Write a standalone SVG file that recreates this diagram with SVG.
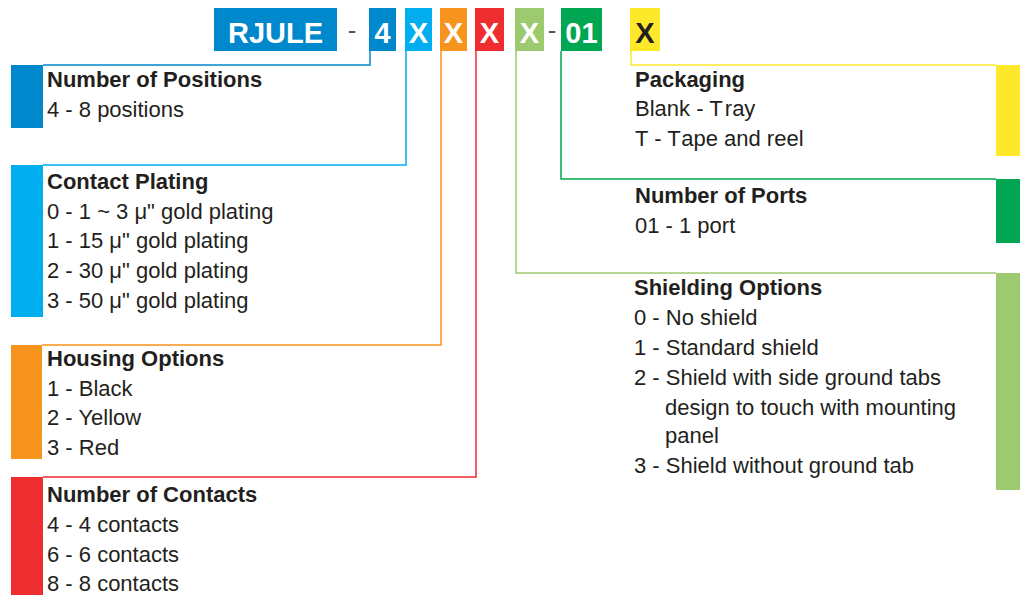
<svg xmlns="http://www.w3.org/2000/svg" width="1020" height="595" viewBox="0 0 1020 595">
<style>
.h{font-family:"Liberation Sans",Arial,sans-serif;font-size:22px;font-weight:bold;fill:#231F20}
.t{font-family:"Liberation Sans",Arial,sans-serif;font-size:22px;fill:#231F20}
.c{font-family:"Liberation Sans",Arial,sans-serif;font-size:29px;font-weight:bold;fill:#fff;text-anchor:middle}
.d{font-family:"Liberation Sans",Arial,sans-serif;font-size:26px;fill:#555;text-anchor:middle}
.ln{fill:none;stroke-width:1.5}
</style>
<rect width="1020" height="595" fill="#fff"/>
<g id="code">
<rect x="214" y="8" width="123" height="43" fill="#0088CC"/>
<text class="c" x="275.5" y="43">RJULE</text>
<text class="d" x="352" y="39">-</text>
<rect x="369" y="8" width="27" height="43" fill="#0088CC"/>
<text class="c" x="382.5" y="43">4</text>
<rect x="405" y="8" width="27" height="43" fill="#00AEEF"/>
<text class="c" x="418.5" y="43">X</text>
<rect x="440" y="8" width="27" height="43" fill="#F7941D"/>
<text class="c" x="453.5" y="43">X</text>
<rect x="475" y="8" width="29" height="43" fill="#ED2D2F"/>
<text class="c" x="489.5" y="43">X</text>
<rect x="515" y="8" width="29" height="43" fill="#9DC96F"/>
<text class="c" x="529.5" y="43">X</text>
<text class="d" x="552" y="39">-</text>
<rect x="561" y="8" width="41" height="43" fill="#00A651"/>
<text class="c" x="581.5" y="43">01</text>
<rect x="630" y="8" width="30" height="43" fill="#FDE929"/>
<text class="c" x="645" y="43" style="fill:#231F20">X</text>
</g>
<g id="connectors">
<path class="ln" stroke="#0088CC" d="M370,51 V65 H43"/>
<path class="ln" stroke="#00AEEF" d="M406,51 V165 H43"/>
<path class="ln" stroke="#F7941D" d="M441,51 V345 H42"/>
<path class="ln" stroke="#ED2D2F" d="M476,51 V477 H43"/>
<path class="ln" stroke="#9DC96F" d="M516,51 V273 H996"/>
<path class="ln" stroke="#00A651" d="M561,51 V179 H996"/>
<path class="ln" stroke="#FDE929" d="M631,51 V65 H996"/>
</g>
<g id="positions">
<rect x="11" y="65" width="32" height="63" fill="#0088CC"/>
<text class="h" x="47" y="87">Number of Positions</text>
<text class="t" x="47" y="117">4 - 8 positions</text>
</g>
<g id="plating">
<rect x="11" y="165" width="32" height="152" fill="#00AEEF"/>
<text class="h" x="47" y="189">Contact Plating</text>
<text class="t" x="47" y="219">0 - 1 ~ 3 μ" gold plating</text>
<text class="t" x="47" y="248">1 - 15 μ" gold plating</text>
<text class="t" x="47" y="278">2 - 30 μ" gold plating</text>
<text class="t" x="47" y="308">3 - 50 μ" gold plating</text>
</g>
<g id="housing">
<rect x="11" y="345" width="31" height="114" fill="#F7941D"/>
<text class="h" x="47" y="366">Housing Options</text>
<text class="t" x="47" y="396">1 - Black</text>
<text class="t" x="47" y="425">2 - Yellow</text>
<text class="t" x="47" y="455">3 - Red</text>
</g>
<g id="contacts">
<rect x="11" y="477" width="32" height="118" fill="#ED2D2F"/>
<text class="h" x="47" y="502">Number of Contacts</text>
<text class="t" x="47" y="532">4 - 4 contacts</text>
<text class="t" x="47" y="562">6 - 6 contacts</text>
<text class="t" x="47" y="591">8 - 8 contacts</text>
</g>
<g id="packaging">
<rect x="996" y="65" width="24" height="91" fill="#FDE929"/>
<text class="h" x="635" y="87">Packaging</text>
<text class="t" x="635" y="116">Blank - T<tspan dx="3">ray</tspan></text>
<text class="t" x="635" y="146">T - T<tspan dx="3">ape and reel</tspan></text>
</g>
<g id="ports">
<rect x="996" y="179" width="24" height="64" fill="#00A651"/>
<text class="h" x="635" y="203">Number of Ports</text>
<text class="t" x="635" y="233">01 - 1 port</text>
</g>
<g id="shielding">
<rect x="996" y="273" width="24" height="217" fill="#9DC96F"/>
<text class="h" x="634" y="295">Shielding Options</text>
<text class="t" x="634" y="325">0 - No shield</text>
<text class="t" x="634" y="355">1 - Standard shield</text>
<text class="t" x="634" y="385">2 - Shield with side ground tabs</text>
<text class="t" x="665" y="415">design to touch with mounting</text>
<text class="t" x="665" y="443">panel</text>
<text class="t" x="634" y="473">3 - Shield without ground tab</text>
</g>
</svg>
